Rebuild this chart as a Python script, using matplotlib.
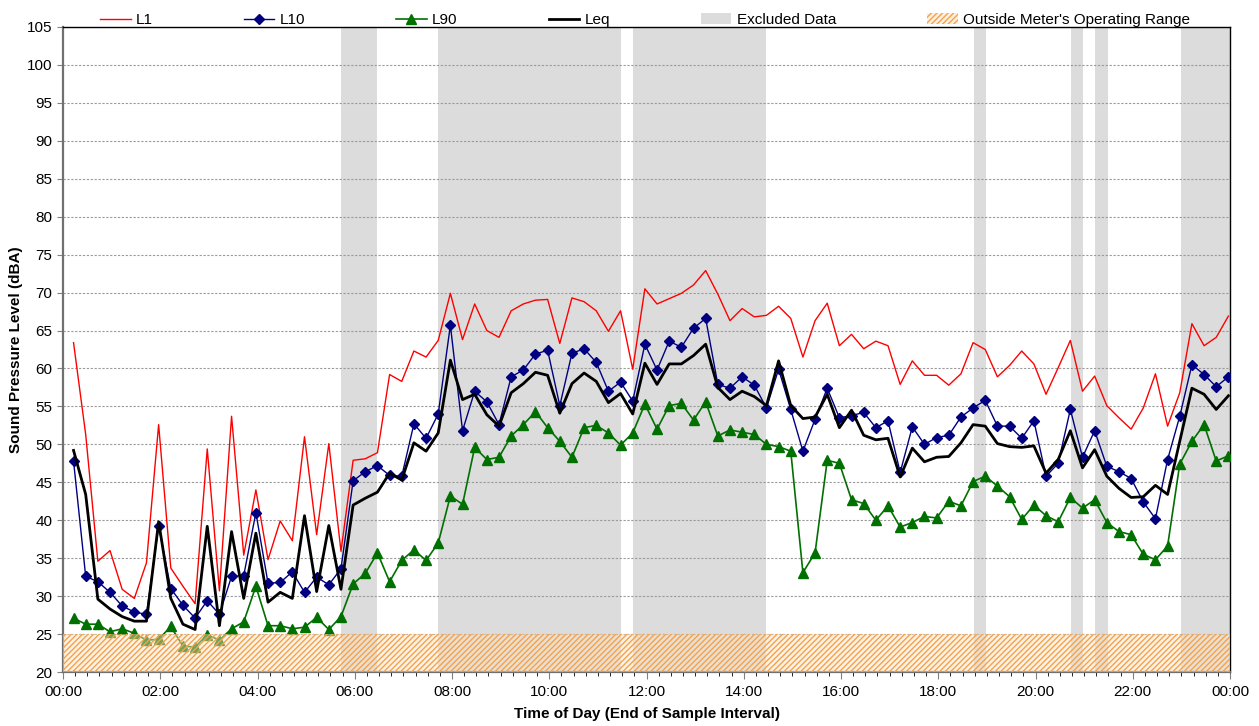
import numpy as np
import pandas as pd
import matplotlib
matplotlib.use("Agg")
import matplotlib.pyplot as plt
from matplotlib.patches import Patch, Rectangle
from matplotlib.lines import Line2D
from matplotlib.ticker import MultipleLocator, FuncFormatter

plt.rcParams['font.family'] = ['Liberation Sans', 'DejaVu Sans']
plt.rcParams['hatch.linewidth'] = 1.0

# ---- data (15-minute intervals, end of sample) ----
start_time = "00:13"
n_samples = 96
interval_min = 15

L1 = [63.4, 51.3, 34.6, 36.0, 30.9, 29.7, 34.4, 52.6, 33.7, 31.3, 29.0, 49.4,
      30.7, 53.7, 35.4, 44.0, 34.8, 39.9, 37.3, 51.0, 38.1, 50.1, 35.9, 47.9,
      48.1, 48.9, 59.2, 58.3, 62.3, 61.5, 63.7, 69.9, 63.8, 68.5, 65.0, 64.1,
      67.6, 68.5, 69.0, 69.1, 63.3, 69.3, 68.8, 67.6, 64.9, 67.6, 59.9, 70.5,
      68.5, 69.2, 69.9, 71.0, 72.9, 69.8, 66.3, 67.9, 66.8, 67.0, 68.2, 66.6,
      61.5, 66.3, 68.6, 63.0, 64.5, 62.6, 63.6, 63.0, 57.9, 61.0, 59.1, 59.1,
      57.8, 59.3, 63.4, 62.5, 58.9, 60.4, 62.3, 60.6, 56.6, 60.1, 63.7, 57.0,
      59.0, 55.1, 53.5, 52.0, 54.8, 59.3, 52.4, 56.8, 65.9, 63.0, 64.1, 66.9]

L10 = [47.8, 32.6, 31.9, 30.5, 28.7, 27.9, 27.6, 39.2, 31.0, 28.8, 27.1, 29.4,
       27.6, 32.6, 32.7, 41.0, 31.7, 31.8, 33.2, 30.5, 32.5, 31.5, 33.6, 45.2,
       46.4, 47.2, 45.9, 45.8, 52.7, 50.8, 54.0, 65.7, 51.8, 57.0, 55.6, 52.6,
       58.9, 59.8, 61.9, 62.4, 55.1, 62.0, 62.6, 60.8, 57.0, 58.2, 55.7, 63.2,
       59.8, 63.6, 62.8, 65.3, 66.6, 57.9, 57.4, 58.9, 57.8, 54.8, 59.9, 54.6,
       49.1, 53.3, 57.4, 53.5, 53.8, 54.2, 52.2, 53.1, 46.3, 52.3, 50.0, 50.9,
       51.2, 53.6, 54.8, 55.8, 52.4, 52.4, 50.8, 53.1, 45.8, 47.5, 54.6, 48.3,
       51.8, 47.1, 46.4, 45.5, 42.4, 40.2, 48.0, 53.7, 60.5, 59.2, 57.6, 58.9]

L90 = [27.1, 26.3, 26.3, 25.3, 25.7, 25.1, 24.2, 24.3, 26.0, 23.4, 23.3, 24.9,
       24.2, 25.7, 26.6, 31.3, 26.1, 26.1, 25.7, 25.9, 27.2, 25.6, 27.3, 31.6,
       33.0, 35.7, 31.9, 34.7, 36.1, 34.7, 37.0, 43.2, 42.1, 49.6, 48.0, 48.3,
       51.1, 52.6, 54.3, 52.2, 50.4, 48.3, 52.2, 52.5, 51.5, 49.9, 51.5, 55.3,
       52.0, 55.1, 55.4, 53.2, 55.6, 51.1, 51.9, 51.6, 51.3, 50.0, 49.7, 49.1,
       33.1, 35.7, 47.9, 47.5, 42.7, 42.2, 40.0, 41.9, 39.1, 39.7, 40.5, 40.3,
       42.5, 41.9, 45.1, 45.8, 44.5, 43.1, 40.1, 42.0, 40.6, 39.8, 43.0, 41.6,
       42.7, 39.7, 38.5, 38.1, 35.5, 34.8, 36.6, 47.4, 50.4, 52.6, 47.8, 48.5]

Leq = [49.2, 43.4, 29.6, 28.3, 27.3, 26.7, 26.7, 39.8, 29.7, 26.3, 25.6, 39.2,
       26.1, 38.5, 29.7, 38.3, 29.2, 30.5, 29.7, 40.6, 30.6, 39.3, 30.9, 42.0,
       42.9, 43.7, 46.2, 45.3, 50.2, 49.1, 51.5, 61.1, 55.9, 56.6, 53.9, 52.4,
       56.8, 58.0, 59.5, 59.1, 54.1, 58.0, 59.4, 58.3, 55.5, 56.7, 54.0, 60.7,
       57.9, 60.6, 60.6, 61.7, 63.2, 57.5, 55.9, 57.0, 56.3, 55.1, 61.0, 55.1,
       53.4, 53.6, 56.6, 52.2, 54.5, 51.2, 50.6, 50.8, 45.7, 49.5, 47.7, 48.3,
       48.4, 50.2, 52.6, 52.4, 50.1, 49.7, 49.6, 49.8, 46.2, 48.0, 51.8, 46.9,
       49.3, 45.8, 44.2, 43.0, 43.1, 44.6, 43.4, 50.4, 57.4, 56.6, 54.6, 56.4]

excluded_periods = [("05:43", "06:27"), ("07:43", "11:28"), ("11:43", "14:28"),
                    ("18:44", "18:59"), ("20:44", "20:59"), ("21:14", "21:29"),
                    ("22:59", "24:00")]

meter_floor = 25          # dBA, lower limit of meter operating range
y_min, y_max = 20, 105

# ---- helpers ----
def to_hours(s):
    h, m = s.split(":")
    return int(h) + int(m) / 60.0

t0 = to_hours(start_time)
times = t0 + np.arange(n_samples) * interval_min / 60.0

# ---- figure ----
W, H, DPI = 1259, 726, 100
fig = plt.figure(figsize=(W / DPI, H / DPI), dpi=DPI)
ax = fig.add_axes([63 / W, 1 - 672 / H, (1230 - 63) / W, (672 - 27) / H])

shade_color = "#dcdcdc"
for a, b in excluded_periods:
    ax.axvspan(to_hours(a), to_hours(b), color=shade_color, lw=0, zorder=0)

ax.yaxis.grid(True, color="#9a9a9a", linestyle=(0, (2, 1.5)), linewidth=0.8, zorder=1)
ax.set_axisbelow(True)

ax.plot(times, L1, color="#ff0000", lw=1.0, zorder=3)
ax.plot(times, L10, color="#000080", lw=1.0, marker="D", markersize=5.5, zorder=4)
ax.plot(times, L90, color="#007000", lw=1.2, marker="^", markersize=7.5, zorder=4)
ax.plot(times, Leq, color="#000000", lw=2.0, zorder=5)

# outside operating range hatch (drawn over data)
ax.add_patch(Rectangle((0, y_min), 24, meter_floor - y_min, facecolor="#fbe3c8",
                       alpha=0.45, edgecolor="none", zorder=6))
ax.add_patch(Rectangle((0, y_min), 24, meter_floor - y_min, facecolor="none",
                       edgecolor="#f5a24a", hatch="//////", lw=0, zorder=6))

ax.set_xlim(0, 24)
ax.set_ylim(y_min, y_max)
ax.yaxis.set_major_locator(MultipleLocator(5))
ax.xaxis.set_major_locator(MultipleLocator(2))
ax.xaxis.set_minor_locator(MultipleLocator(0.25))
ax.xaxis.set_major_formatter(FuncFormatter(lambda v, p: "%02d:00" % (int(round(v)) % 24)))

ax.tick_params(axis="both", labelsize=11, direction="out", color="#808080")
ax.tick_params(axis="x", which="major", length=5, pad=4)
ax.tick_params(axis="x", which="minor", length=3)
ax.tick_params(axis="y", length=4)

for side in ["left", "bottom"]:
    ax.spines[side].set_color("#707070")
    ax.spines[side].set_linewidth(1.6)
for side in ["top", "right"]:
    ax.spines[side].set_color("#000000")
    ax.spines[side].set_linewidth(1.0)

ax.set_ylabel("Sound Pressure Level (dBA)", fontsize=11, fontweight="bold", labelpad=3)
ax.set_xlabel("Time of Day (End of Sample Interval)", fontsize=11, fontweight="bold", labelpad=6)

handles = [
    Line2D([], [], color="#ff0000", lw=1.0),
    Line2D([], [], color="#000080", lw=1.0, marker="D", markersize=5.5),
    Line2D([], [], color="#007000", lw=1.2, marker="^", markersize=7.5),
    Line2D([], [], color="#000000", lw=2.0),
    Patch(facecolor=shade_color, edgecolor="none"),
    Patch(facecolor="#fdf0e0", edgecolor="#f5a24a", hatch="//////", lw=0),
]
labels = ["L1", "L10", "L90", "Leq", "Excluded Data", "Outside Meter's Operating Range"]
fig.legend(handles, labels, loc="lower left", ncol=6, mode="expand",
           bbox_to_anchor=(100 / W, 1 - 27 / H, (1190 - 100) / W, 24 / H),
           frameon=False, fontsize=11, handlelength=2.0, handletextpad=0.35,
           borderaxespad=0, borderpad=0)

fig.savefig("out.png", dpi=DPI)
